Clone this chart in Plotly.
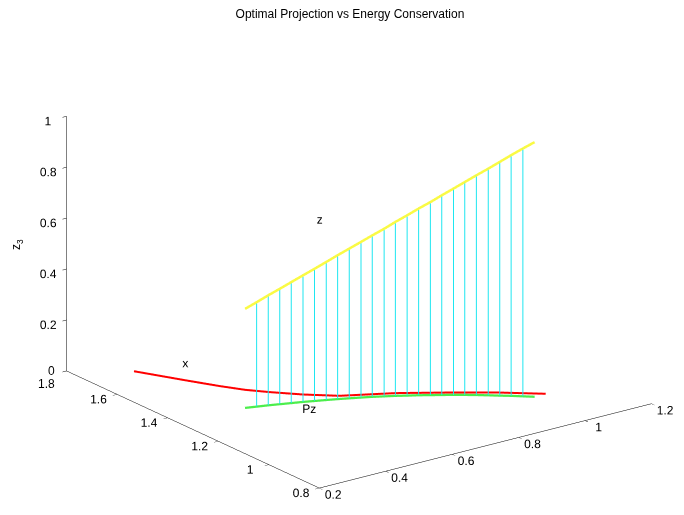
import plotly.graph_objects as go

# ---- data ----
# red curve "x" (lies in the z3 = 0 plane)
x_curve_x = [0.330, 0.394, 0.435, 0.468, 0.506, 0.561, 0.626, 0.747, 0.845, 0.942, 1.036]
x_curve_y = [1.704, 1.578, 1.501, 1.446, 1.399, 1.339, 1.281, 1.217, 1.151, 1.082, 1.003]
x_curve_z = [0.0] * len(x_curve_x)

# points of z (yellow) and its projection Pz (green) share the first two coordinates
proj_x = [0.392, 0.420, 0.448, 0.475, 0.502, 0.530, 0.556, 0.583, 0.609, 0.635, 0.661, 0.686, 0.711,
          0.735, 0.759, 0.783, 0.806, 0.829, 0.852, 0.874, 0.896, 0.918, 0.939, 0.960, 0.981, 1.002]
proj_y = [1.346, 1.337, 1.328, 1.318, 1.308, 1.298, 1.287, 1.276, 1.265, 1.253, 1.241, 1.229, 1.215,
          1.202, 1.187, 1.173, 1.157, 1.142, 1.126, 1.110, 1.093, 1.075, 1.057, 1.040, 1.021, 1.002]
z_height = [0.389, 0.410, 0.432, 0.453, 0.475, 0.497, 0.519, 0.542, 0.565, 0.588, 0.611, 0.634, 0.658,
            0.683, 0.708, 0.733, 0.758, 0.784, 0.810, 0.836, 0.863, 0.890, 0.918, 0.945, 0.973, 1.000]
pz_height = [0.0] * len(proj_x)

x_ticks = [0.2, 0.4, 0.6, 0.8, 1.0, 1.2]
y_ticks = [0.8, 1.0, 1.2, 1.4, 1.6, 1.8]
y_tick_text = ["0.8", "1", "1.2", "1.4", "1.6", ""]   # corner label "1.8" placed below
z_ticks = [0, 0.2, 0.4, 0.6, 0.8, 1.0]
z_tick_text = ["", "0.2", "0.4", "0.6", "0.8", "1"]   # corner label "0" placed below

labels = ["x", "z", "Pz"]
label_x = [0.46, 0.79, 0.514]
label_y = [1.672, 1.574, 1.252]
label_z = [0.0, 0.5, 0.0]

# ---- connectors z -> Pz (interior points) ----
cx, cy, cz = [], [], []
for i in range(1, len(proj_x) - 1):
    cx += [proj_x[i], proj_x[i], None]
    cy += [proj_y[i], proj_y[i], None]
    cz += [pz_height[i], z_height[i], None]

fig = go.Figure()
fig.add_trace(go.Scatter3d(x=cx, y=cy, z=cz, mode="lines",
                           line=dict(color="#1ee6f0", width=2), hoverinfo="skip"))
fig.add_trace(go.Scatter3d(x=x_curve_x, y=x_curve_y, z=x_curve_z, mode="lines",
                           line=dict(color="#ff0000", width=4)))
fig.add_trace(go.Scatter3d(x=proj_x, y=proj_y, z=pz_height, mode="lines",
                           line=dict(color="#4cee4c", width=4.5)))
fig.add_trace(go.Scatter3d(x=proj_x, y=proj_y, z=z_height, mode="lines",
                           line=dict(color="#fafa44", width=5)))
fig.add_trace(go.Scatter3d(x=label_x, y=label_y, z=label_z, mode="text", text=labels,
                           textfont=dict(family="Liberation Sans", size=12, color="black"),
                           textposition="middle center"))

tick_font = dict(family="Liberation Sans", size=12, color="black")
axis_common = dict(showgrid=False, zeroline=False, showbackground=False, showline=True,
                   linecolor="black", linewidth=1, ticks="inside", ticklen=5, tickcolor="black",
                   showspikes=False, tickangle=0, tickfont=tick_font)

# the two labels sharing the corner (x=0.2, y=1.8, z=0)
corner_annotations = [
    dict(x=x_ticks[0], y=y_ticks[-1], z=z_ticks[0], text="0", showarrow=False,
         xshift=-15, yshift=0, font=tick_font),
    dict(x=x_ticks[0], y=y_ticks[-1], z=z_ticks[0], text="1.8", showarrow=False,
         xshift=-20, yshift=-13, font=tick_font),
]

k = 1.64
fig.update_layout(
    width=684, height=515,
    margin=dict(l=0, r=0, t=0, b=0),
    paper_bgcolor="white",
    showlegend=False,
    title=dict(text="Optimal Projection vs Energy Conservation", x=0.5, xanchor="center",
               y=1 - 6 / 515, yref="container", yanchor="middle",
               font=dict(family="Liberation Sans", size=12, color="black")),
    annotations=[dict(text="z<sub>3</sub>", x=9 / 684, y=1 - 237 / 515,
                      xref="paper", yref="paper", xanchor="center", yanchor="middle",
                      showarrow=False, textangle=-90,
                      font=dict(family="Liberation Sans", size=12, color="black"))],
    scene=dict(
        domain=dict(x=[0.0395, 0.9868], y=[0.021, 1.0]),
        bgcolor="white",
        xaxis=dict(range=[0.2, 1.2], tickvals=x_ticks, title=dict(text=""), **axis_common),
        yaxis=dict(range=[0.8, 1.8], tickvals=y_ticks, ticktext=y_tick_text, title=dict(text=""),
                   **axis_common),
        zaxis=dict(range=[0, 1], tickvals=z_ticks, ticktext=z_tick_text, title=dict(text=""),
                   **axis_common),
        aspectmode="manual",
        aspectratio=dict(x=1.0 * k, y=1.028 * k, z=0.656 * k),
        camera=dict(projection=dict(type="orthographic"),
                    up=dict(x=0, y=0, z=1),
                    center=dict(x=0, y=0, z=0),
                    eye=dict(x=-0.559 * 1.6, y=-0.755 * 1.6, z=0.343 * 1.6)),
        annotations=corner_annotations,
    ),
)

fig.write_html("out.html", config={"displayModeBar": False})
